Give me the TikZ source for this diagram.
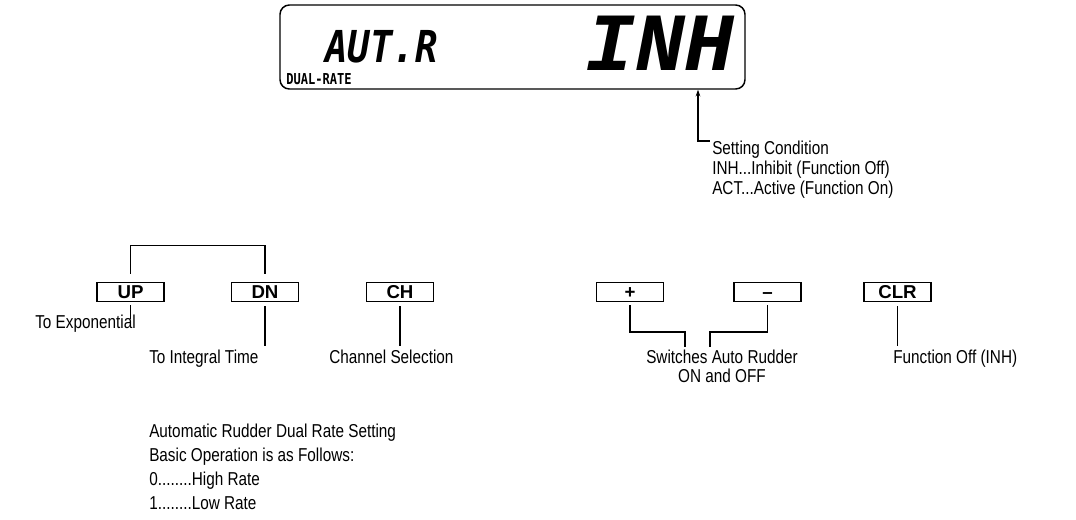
\documentclass[tikz,border=0pt]{standalone}
\usepackage{fontspec}
\setmainfont{Liberation Sans}[FakeStretch=0.82]
\newfontfamily\keyfont{Liberation Sans}
\newfontfamily\lcdA{DejaVu Sans Mono}[FakeStretch=0.85]
\newfontfamily\lcdS{DejaVu Sans Mono}[FakeStretch=0.8]
\newfontfamily\lcdB{Liberation Mono}
\usetikzlibrary{arrows.meta,calc}
\begin{document}
\begin{tikzpicture}[x=0.75pt,y=-0.75pt,
  keybox/.style={draw, line width=1.4pt, minimum width=50.25pt, minimum height=14.25pt, inner sep=0pt,
    text height=9.5pt, text depth=0pt, font=\keyfont\fontsize{14}{16}\selectfont\bfseries},
  lbl/.style={inner sep=0pt, font=\fontsize{14}{16}\selectfont, anchor=base west},
  wire/.style={line width=0.9pt}]
\useasboundingbox (0,0) rectangle (1076,519);

% display
\node[draw, rounded corners=7pt, line width=1.1pt, minimum width=348.75pt, minimum height=63pt, inner sep=0pt] (disp) at (512.5,47) {};
\node[anchor=base west, inner sep=0pt, font={\lcdA\fontsize{33}{33}\selectfont\bfseries\itshape}] (autr) at (325,62) {AUT.R};
\node[anchor=base, inner sep=0pt, font={\lcdB\fontsize{62}{62}\selectfont\bfseries\itshape}] (inh) at (660,70) {INH};
\node[anchor=base west, inner sep=0pt, font={\lcdS\fontsize{11.3}{12}\selectfont\bfseries}] (dual) at (286,84) {DUAL-RATE};

% setting condition
\node[lbl] (set1) at (712,154) {Setting Condition};
\node[lbl] (set2) at (712,174) {INH...Inhibit (Function Off)};
\node[lbl] (set3) at (712,194) {ACT...Active (Function On)};
\coordinate (ac) at (698,141);
\draw[wire, {Stealth[length=5pt,width=3.5pt]}-] (ac |- disp.south) -- (ac) -- ++(12,0);

% keys
\node[keybox] (up) at (130.5,292) {UP};
\node[keybox] (dn) at (265,292) {DN};
\node[keybox] (ch) at (400,292) {CH};
\node[keybox] (plus) at (630,292) {+};
\node[keybox] (minus) at (767.5,292) {–};
\node[keybox] (clr) at (897.5,292) {CLR};

% left wires
\draw[wire] (up.north) ++(0,-8) -- ++(0,-28) -| ($(dn.north)+(0,-8)$);
\draw[wire] (up.south) ++(0,3) -- ++(0,14);
\draw[wire] (dn.south) ++(0,4) -- ++(0,40);
\draw[wire] (ch.south) ++(0,4) -- ++(0,40);

% right wires
\coordinate (jl) at (685,347);
\coordinate (jr) at (710,347);
\draw[wire] (plus.south) ++(0,3) |- ($(jl)+(0,-15)$) -- (jl);
\draw[wire] (minus.south) ++(0,3) |- ($(jr)+(0,-15)$) -- (jr);
\draw[wire] (clr.south) ++(0,4) -- ++(0,40);

% labels
\node[lbl, anchor=base east] (toexp) at (136,328) {To Exponential};
\node[lbl] (toint) at (149,363) {To Integral Time};
\node[lbl] (chsel) at (329,363) {Channel Selection};
\node[lbl, anchor=base] (sw1) at (722,363) {Switches Auto Rudder};
\node[lbl, anchor=base] (sw2) at (722,382) {ON and OFF};
\node[lbl] (foff) at (893,363) {Function Off (INH)};

\node[lbl] (b1) at (149,437) {Automatic Rudder Dual Rate Setting};
\node[lbl] (b2) at (149,461) {Basic Operation is as Follows:};
\node[lbl] (b3) at (149,485) {0........High Rate};
\node[lbl] (b4) at (149,509) {1........Low Rate};
\end{tikzpicture}
\end{document}
